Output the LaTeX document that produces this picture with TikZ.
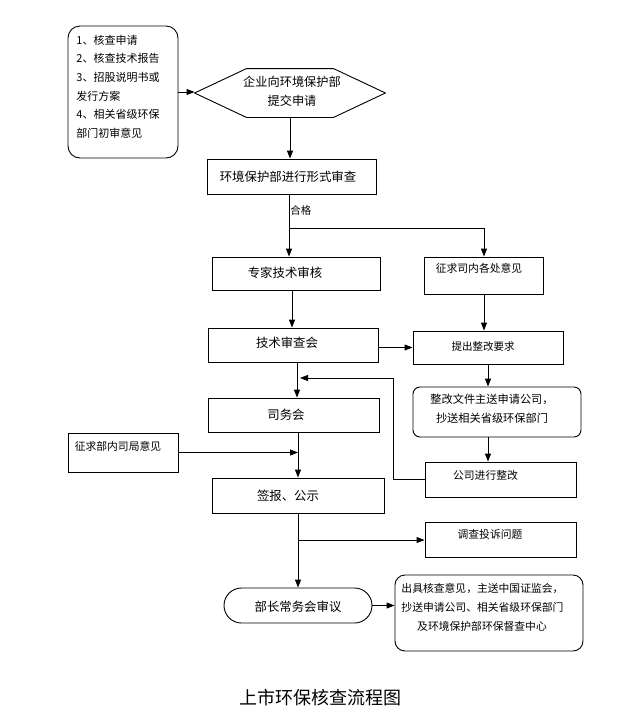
\documentclass[tikz,border=0pt]{standalone}
\usepackage{fontspec}
\setmainfont{Noto Sans CJK SC}
\usetikzlibrary{arrows.meta}
\begin{document}
\begin{tikzpicture}[x=1pt,y=-1pt,line width=0.9pt,
  box/.style={draw,inner sep=0pt},
  rbox/.style={draw,inner sep=0pt,rounded corners=8pt},
  txt/.style={inner sep=0pt,font=\fontsize{12.4}{15}\selectfont},
  stxt/.style={inner sep=0pt,font=\fontsize{10.8}{13}\selectfont},
  arr/.style={-{Triangle[length=8pt,width=6pt]}}]
\useasboundingbox (0,0) rectangle (618,716);
% top-left note box
\node[rbox,rounded corners=12pt,minimum width=110pt,minimum height=132pt] (lb) at (123,92) {};
\node[inner sep=0pt,anchor=north west,align=left,font=\fontsize{11}{18.6}\selectfont] (lbt) at (76,34.5)
  {1、核查申请\\2、核查技术报告\\3、招股说明书或\\发行方案\\4、相关省级环保\\部门初审意见};
% hexagon
\node[minimum width=190pt,minimum height=48pt,inner sep=0pt] (hex) at (290,93) {};
\draw (hex.west) -- ([xshift=52pt]hex.north west) -- ([xshift=-52pt]hex.north east) -- (hex.east)
  -- ([xshift=-52pt]hex.south east) -- ([xshift=52pt]hex.south west) -- cycle;
\node[inner sep=0pt,align=center,font=\fontsize{12.2}{19}\selectfont] (hext) at (292,91.5) {企业向环境保护部\\提交申请};
% boxes
\node[box,minimum width=169pt,minimum height=35pt] (b1) at (291.5,176.5) {};
\node[txt] (t1) at (288,177) {环境保护部进行形式审查};
\node[stxt,anchor=west,font=\fontsize{10.5}{12}\selectfont] (hg) at (290,210) {合格};
\node[box,minimum width=168pt,minimum height=33pt] (b2) at (296,273.5) {};
\node[txt] (t2) at (285,273) {专家技术审核};
\node[box,minimum width=119pt,minimum height=37pt] (b3) at (484,275.5) {};
\node[stxt] (t3) at (479,268) {征求司内各处意见};
\node[box,minimum width=170pt,minimum height=34pt] (b4) at (293,345) {};
\node[txt] (t4) at (287,343) {技术审查会};
\node[box,minimum width=150pt,minimum height=33pt] (b5) at (488,347.5) {};
\node[stxt,font=\fontsize{10.5}{12}\selectfont] (t5) at (483,347) {提出整改要求};
\node[rbox,rounded corners=7pt,minimum width=168pt,minimum height=50pt] (b6) at (497,412) {};
\node[inner sep=0pt,align=center,font=\fontsize{11.2}{19}\selectfont] (t6) at (492,408.5) {整改文件主送申请公司，\\抄送相关省级环保部门};
\node[box,minimum width=171pt,minimum height=34pt] (b7) at (293.5,415) {};
\node[txt] (t7) at (286,415) {司务会};
\node[box,minimum width=110pt,minimum height=39pt] (b8) at (123,452.5) {};
\node[stxt] (t8) at (118,446) {征求部内司局意见};
\node[box,minimum width=151pt,minimum height=35pt] (b9) at (500.5,479.5) {};
\node[stxt] (t9) at (485.5,475) {公司进行整改};
\node[box,minimum width=172pt,minimum height=35pt] (b10) at (298,495.5) {};
\node[txt] (t10) at (288,496) {签报、公示};
\node[box,minimum width=151pt,minimum height=35pt] (b11) at (500.5,540) {};
\node[stxt] (t11) at (490,534) {调查投诉问题};
\node[rbox,rounded corners=17.5pt,minimum width=148pt,minimum height=35pt] (b12) at (298,605.5) {};
\node[txt] (t12) at (298,607) {部长常务会审议};
\node[rbox,rounded corners=10pt,minimum width=188pt,minimum height=76pt] (b13) at (489,613) {};
\node[stxt,anchor=west] (t13a) at (401,588) {出具核查意见，主送中国证监会，};
\node[stxt,anchor=west] (t13b) at (401,607) {抄送申请公司、相关省级环保部门};
\node[stxt] (t13c) at (482,626) {及环境保护部环保督查中心};
\node[inner sep=0pt,font=\fontsize{18}{20}\selectfont] (title) at (320,698) {上市环保核查流程图};
% connectors
\coordinate (j1) at (289,228);
\coordinate (fb1) at (393,378);
\coordinate (fb2) at (300,378);
\draw[arr] (lb.east) -- (lb.east -| hex.west);
\draw[arr] (hex.south) -- (hex.south |- b1.north);
\draw (j1 |- b1.south) -- (j1);
\draw[arr] (j1) -- (j1 |- b2.north);
\draw[arr] (j1) -| (b3.north);
\draw[arr] ([xshift=-4pt]b2.south) -- ([xshift=-4pt]b2.south |- b4.north);
\draw[arr] (b3.south) -- (b3.south |- b5.north);
\draw[arr] (b4.east |- b5.west) -- (b5.west);
\draw[arr] (b5.south) -- (b5.south |- b6.north);
\draw[arr] (b5.south |- b6.south) -- (b5.south |- b9.north);
\draw[arr] ([xshift=4pt]b4.south) -- ([xshift=4pt]b4.south |- b7.north);
\draw[arr] (b9.west) -| (fb1) -- (fb2);
\draw[arr] (b10.north |- b7.south) -- (b10.north);
\draw[arr] (b8.east) -- (b8.east -| b10.north);
\draw[arr] (b10.south) -- (b12.north);
\draw[arr] (b10.south |- b11.west) -- (b11.west);
\draw[arr] (b12.east) -- (b12.east -| b13.west);
\end{tikzpicture}
\end{document}
